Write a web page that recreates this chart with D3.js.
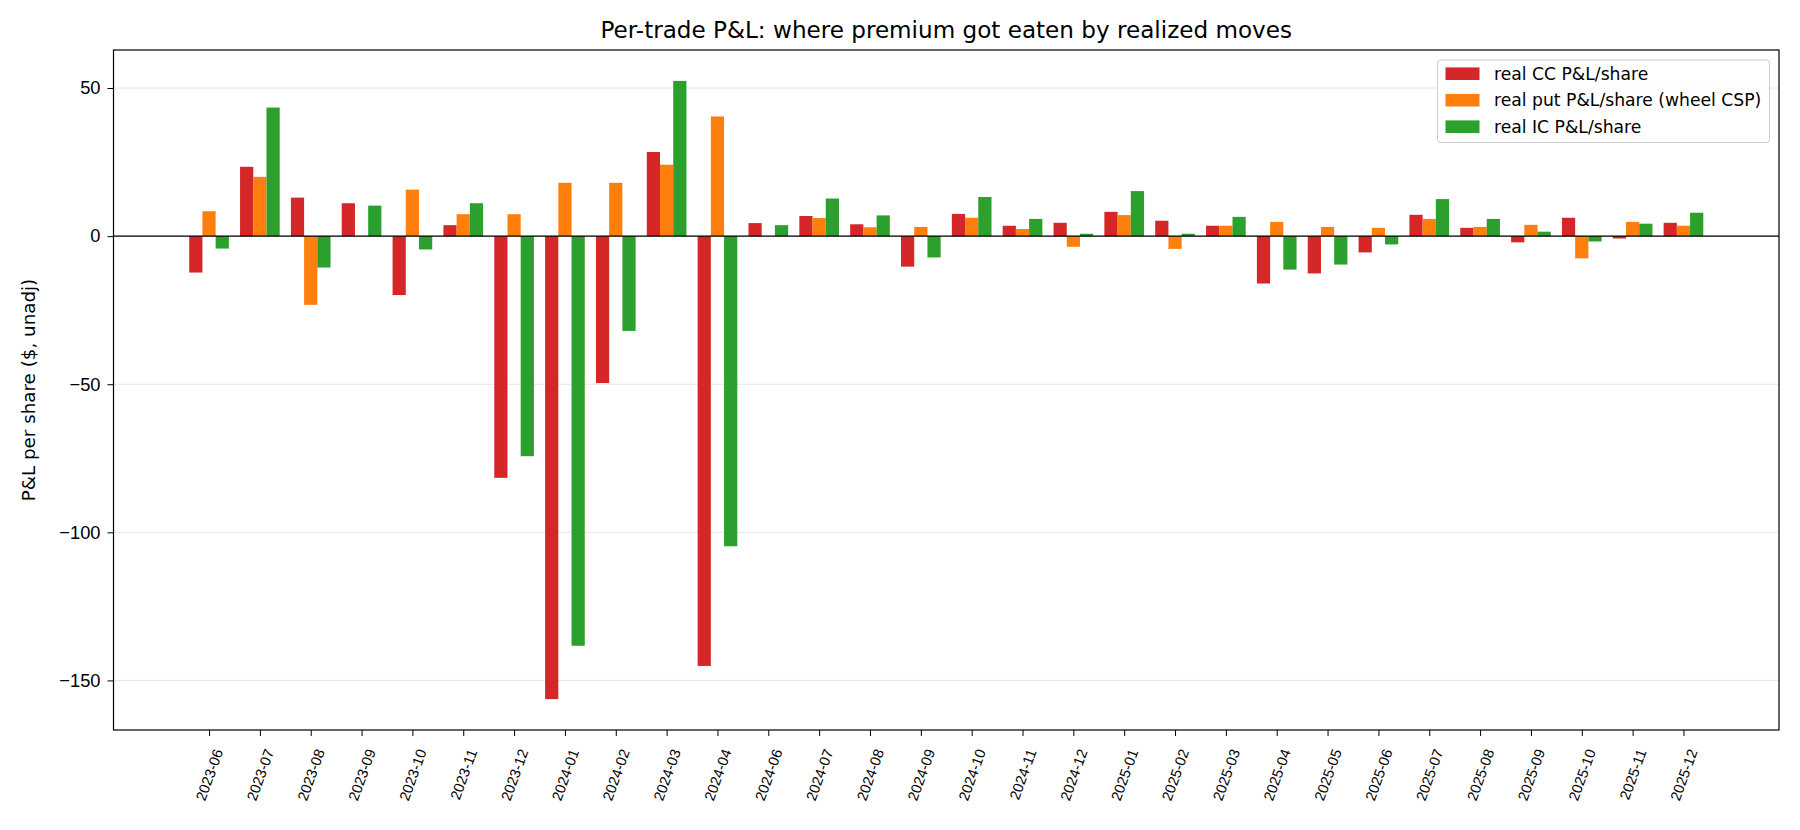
<!DOCTYPE html>
<html lang="en">
<head>
<meta charset="utf-8">
<title>Per-trade P&amp;L</title>
<script src="https://cdn.jsdelivr.net/npm/d3@7"></script>
<style>
body {
  margin: 0;
  background: #fff;
  font-family: 'DejaVu Sans', sans-serif;
}
.grid line {
  stroke: #e5e5e5;
  stroke-width: 1;
}
.axis path, .axis line {
  stroke: #000;
}
.axis text {
  fill: #000;
}
</style>
</head>
<body>
<div id="chart"></div>
<script>

var months = ["2023-06","2023-07","2023-08","2023-09","2023-10","2023-11","2023-12",
  "2024-01","2024-02","2024-03","2024-04","2024-06","2024-07","2024-08","2024-09",
  "2024-10","2024-11","2024-12","2025-01","2025-02","2025-03","2025-04","2025-05",
  "2025-06","2025-07","2025-08","2025-09","2025-10","2025-11","2025-12"];

// per-share P&L
var ccPnl = [-12.3, 23.4, 13.0, 11.1, -19.9, 3.7, -81.6, -156.3, -49.6, 28.4, -145.1, 4.4, 6.8, 4.0, -10.3,
  7.5, 3.5, 4.5, 8.2, 5.2, 3.5, -16.0, -12.6, -5.5, 7.2, 2.8, -2.1, 6.2, -0.8, 4.5];
var putPnl = [8.4, 20.0, -23.2, 0, 15.7, 7.4, 7.4, 18.0, 18.0, 24.1, 40.4, 0, 6.1, 3.0, 3.1,
  6.2, 2.4, -3.6, 7.1, -4.3, 3.5, 4.8, 3.1, 2.8, 5.8, 3.1, 3.8, -7.5, 4.8, 3.5];
var icPnl = [-4.2, 43.4, -10.6, 10.3, -4.5, 11.1, -74.3, -138.3, -32.0, 52.4, -104.7, 3.7, 12.7, 7.0, -7.2,
  13.2, 5.8, 0.8, 15.2, 0.8, 6.5, -11.3, -9.6, -2.8, 12.5, 5.8, 1.5, -1.8, 4.2, 7.9];

var seriesNames = ["real CC P&L/share", "real put P&L/share (wheel CSP)", "real IC P&L/share"];
var seriesColors = ["#d62728", "#ff7f0e", "#2ca02c"];
var yTicks = [-150, -100, -50, 0, 50];

var W = 1800, H = 830;
var margin = {top: 50, right: 21, bottom: 100, left: 113.5};
var iw = W - margin.left - margin.right,
    ih = H - margin.top - margin.bottom;

var barW = 0.26;
var allSeries = [ccPnl, putPnl, icPnl];

// matplotlib-ish 5% margins
var xlo = -1.5 * barW, xhi = months.length - 1 + 1.5 * barW;
var xpad = (xhi - xlo) * 0.05;
var x = d3.scaleLinear().domain([xlo - xpad, xhi + xpad]).range([0, iw]);

var vals = d3.merge(allSeries);
var ylo = d3.min(vals), yhi = d3.max(vals);
var ypad = (yhi - ylo) * 0.05;
var y = d3.scaleLinear().domain([ylo - ypad, yhi + ypad]).range([ih, 0]);

var svg = d3.select("#chart").append("svg")
  .attr("width", W)
  .attr("height", H);

svg.append("rect").attr("width", W).attr("height", H).attr("fill", "#fff");

var g = svg.append("g")
  .attr("transform", "translate(" + margin.left + "," + margin.top + ")");

// grid
g.append("g").attr("class", "grid")
  .selectAll("line").data(yTicks).enter().append("line")
  .attr("x1", 0).attr("x2", iw)
  .attr("y1", function(d){ return y(d); })
  .attr("y2", function(d){ return y(d); });

// bars
allSeries.forEach(function(s, k){
  g.append("g").selectAll("rect")
    .data(s).enter().append("rect")
    .attr("x", function(d, i){ return x(i + (k - 1) * barW - barW / 2); })
    .attr("width", x(barW) - x(0))
    .attr("y", function(d){ return y(Math.max(0, d)); })
    .attr("height", function(d){ return Math.abs(y(d) - y(0)); })
    .attr("fill", seriesColors[k]);
});

// zero line
g.append("line")
  .attr("x1", 0).attr("x2", iw)
  .attr("y1", y(0)).attr("y2", y(0))
  .attr("stroke", "#000").attr("stroke-width", 1.1);

// y axis
var yAxis = g.append("g").attr("class", "axis")
  .call(d3.axisLeft(y).tickValues(yTicks).tickSize(6).tickPadding(7));
yAxis.select(".domain").remove();
yAxis.selectAll("text").style("font-size", "18.3px");

// x axis
var xAxis = g.append("g").attr("class", "axis")
  .attr("transform", "translate(0," + ih + ")")
  .call(d3.axisBottom(x).tickValues(d3.range(months.length)).tickSize(6).tickFormat(""));
xAxis.select(".domain").remove();

var ang = 70 * Math.PI / 180;
var xfs = 14.6;
xAxis.selectAll(".tick").append("text")
  .text(function(d){ return months[d]; })
  .style("font-size", xfs + "px")
  .attr("text-anchor", "middle")
  .attr("dominant-baseline", "central")
  .each(function(){
    var L = this.getComputedTextLength();
    var hh = L * Math.sin(ang) + xfs * 1.1 * Math.cos(ang);
    d3.select(this).attr("transform", "translate(0," + (17 + hh / 2) + ") rotate(-70)");
  });

// frame
g.append("rect")
  .attr("width", iw).attr("height", ih)
  .attr("fill", "none")
  .attr("stroke", "#000")
  .attr("stroke-width", 1.2);

// title
svg.append("text")
  .attr("x", margin.left + iw / 2)
  .attr("y", 38)
  .attr("text-anchor", "middle")
  .style("font-size", "23.1px")
  .text("Per-trade P&L: where premium got eaten by realized moves");

// y label
svg.append("text")
  .attr("transform", "translate(35," + (margin.top + ih / 2) + ") rotate(-90)")
  .attr("text-anchor", "middle")
  .style("font-size", "18.3px")
  .text("P&L per share ($, unadj)");

// legend
var lg = svg.append("g").attr("transform", "translate(1437.5,60)");
lg.append("rect")
  .attr("width", 332).attr("height", 82.5)
  .attr("rx", 3)
  .attr("fill", "#fff").attr("fill-opacity", 0.8)
  .attr("stroke", "#cccccc").attr("stroke-width", 1);

seriesNames.forEach(function(name, k){
  var row = lg.append("g").attr("transform", "translate(0," + (13.7 + k * 26.5) + ")");
  row.append("rect")
    .attr("x", 8).attr("y", -6.3)
    .attr("width", 34).attr("height", 12.6)
    .attr("fill", seriesColors[k]);
  row.append("text")
    .attr("x", 56.5)
    .attr("dominant-baseline", "central")
    .style("font-size", "17.2px")
    .text(name);
});

</script>
</body>
</html>
